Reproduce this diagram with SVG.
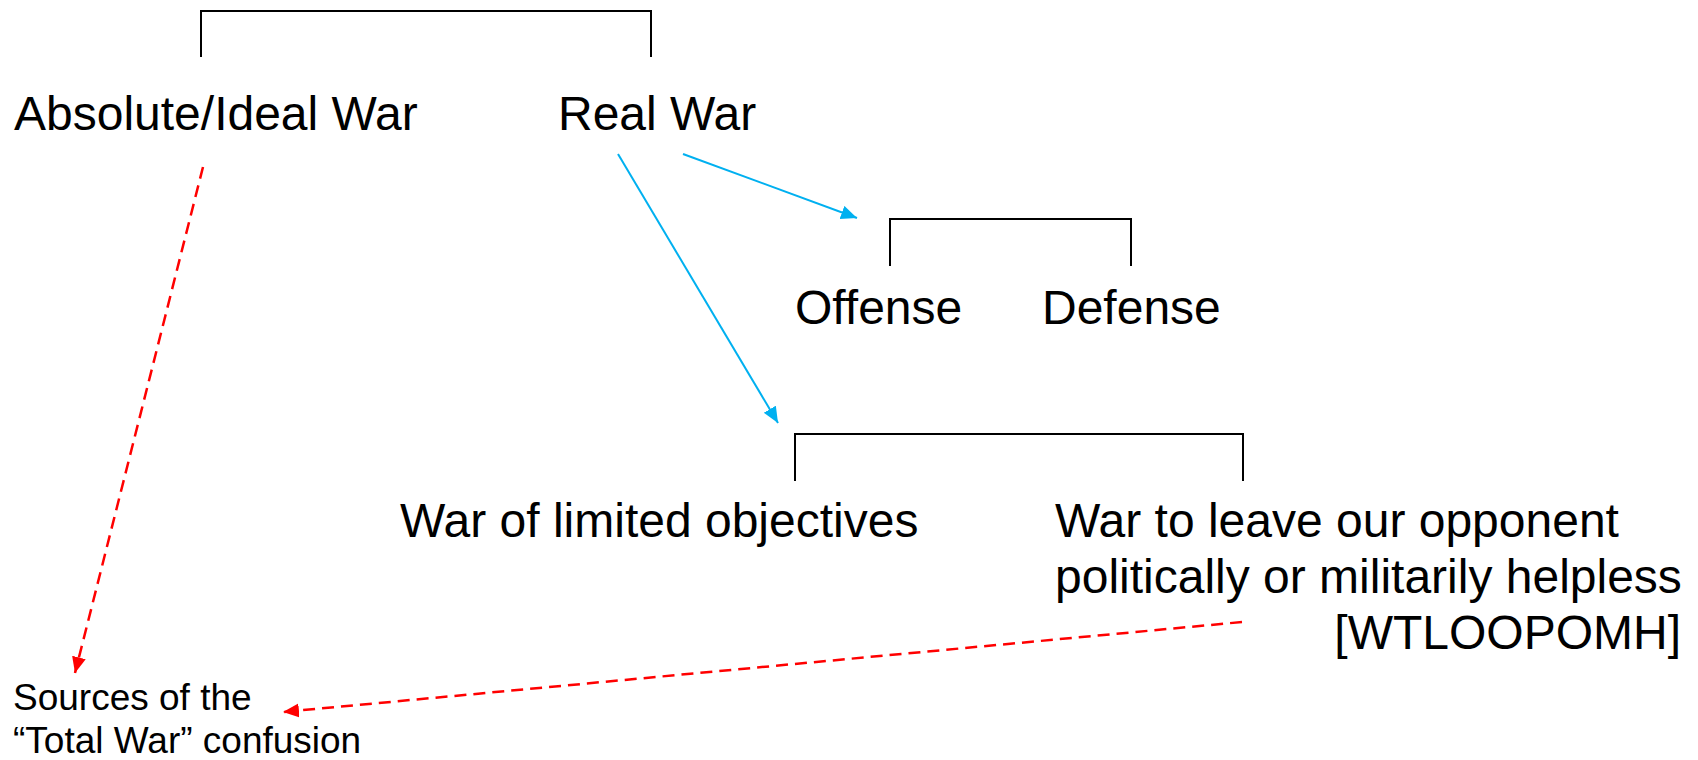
<svg xmlns="http://www.w3.org/2000/svg" width="1698" height="760" viewBox="0 0 1698 760">
<style>
.t{font-family:"Liberation Sans",Arial,sans-serif;font-size:48px;fill:#000}
.s{font-family:"Liberation Sans",Arial,sans-serif;font-size:37px;fill:#000}
.br{fill:none;stroke:#000;stroke-width:2}
.blue{stroke:#00B0F0;stroke-width:2;fill:none}
.red{stroke:#FF0000;stroke-width:2.5;stroke-dasharray:12 7;fill:none}
</style>
<defs>
<marker id="ab" markerUnits="userSpaceOnUse" markerWidth="20" markerHeight="16" refX="16" refY="7" orient="auto"><path d="M0,0 L16,7 L0,14 Z" fill="#00B0F0"/></marker>
<marker id="ar" markerUnits="userSpaceOnUse" markerWidth="20" markerHeight="16" refX="16" refY="7" orient="auto"><path d="M0,0 L16,7 L0,14 Z" fill="#FF0000"/></marker>
</defs>
<g id="bracket-top"><path class="br" d="M201,57 V11 H651 V57"/></g>
<g id="bracket-offdef"><path class="br" d="M890,266 V219 H1131 V266"/></g>
<g id="bracket-limited"><path class="br" d="M795,481 V434 H1243 V481"/></g>
<g id="absolute"><text class="t" x="14" y="130">Absolute/Ideal War</text></g>
<g id="real"><text class="t" x="558" y="130">Real War</text></g>
<g id="offense"><text class="t" x="795" y="324">Offense</text></g>
<g id="defense"><text class="t" x="1042" y="324">Defense</text></g>
<g id="limited"><text class="t" x="400" y="537">War of limited objectives</text></g>
<g id="wtloopomh"><text class="t" x="1055" y="537">War to leave our opponent</text><text class="t" x="1055" y="593">politically or militarily helpless</text><text class="t" x="1681" y="649" text-anchor="end">[WTLOOPOMH]</text></g>
<g id="sources"><text class="s" x="13" y="710">Sources of the</text><text class="s" x="13" y="753">“Total War” confusion</text></g>
<g id="connectors">
<line class="blue" x1="683" y1="154" x2="857" y2="218" marker-end="url(#ab)"/>
<line class="blue" x1="618" y1="154" x2="778" y2="423" marker-end="url(#ab)"/>
<line class="red" x1="203" y1="167" x2="75" y2="673" marker-end="url(#ar)"/>
<line class="red" x1="1242" y1="622" x2="283" y2="712" marker-end="url(#ar)"/>
</g>
</svg>
